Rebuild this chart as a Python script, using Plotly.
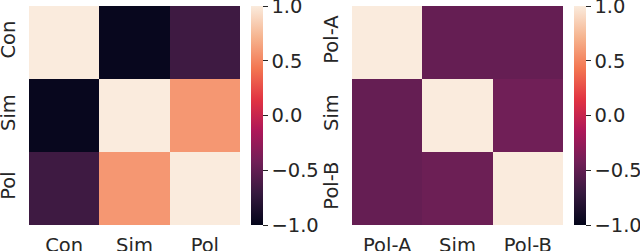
import plotly.graph_objects as go

# Data
left_labels = ["Con", "Sim", "Pol"]
left_values = [
    [1.00, -0.97, -0.67],
    [-0.97, 1.00, 0.58],
    [-0.67, 0.58, 1.00],
]
right_labels = ["Pol-A", "Sim", "Pol-B"]
right_values = [
    [1.00, -0.48, -0.48],
    [-0.48, 1.00, -0.43],
    [-0.48, -0.45, 1.00],
]
cbar_ticks = [-1.0, -0.5, 0.0, 0.5, 1.0]
cbar_ticktext = ["\u22121.0", "\u22120.5", "0.0", "0.5", "1.0"]

rocket = [
    [0.0, "#03051A"],
    [1/7, "#35193E"],
    [2/7, "#701F57"],
    [3/7, "#AD1759"],
    [4/7, "#E13342"],
    [5/7, "#F37651"],
    [6/7, "#F6B48F"],
    [1.0, "#FAEBDD"],
]

W, H = 640, 251
top_px, bot_px = 6, 225
y0 = (H - bot_px) / H
y1 = (H - top_px) / H
font = dict(family="DejaVu Sans", size=19.5, color="#262626")

fig = go.Figure()

def add_heat(values, labels, xa, ya, cb_x):
    fig.add_trace(go.Heatmap(
        z=values, x=labels, y=labels,
        xaxis=xa, yaxis=ya,
        zmin=-1, zmax=1, colorscale=rocket,
        colorbar=dict(
            x=cb_x / W, xanchor="left", xref="paper", xpad=0,
            y=y0, yanchor="bottom", yref="paper", ypad=0,
            len=(bot_px - top_px) / H, lenmode="fraction",
            thickness=12, thicknessmode="pixels",
            outlinewidth=0,
            tickmode="array",
            tickvals=cbar_ticks, ticktext=cbar_ticktext,
            ticks="outside", ticklen=5, tickwidth=1, tickcolor="#262626",
            tickfont=font, ticklabeloverflow="allow",
        ),
        hoverongaps=False,
    ))

add_heat(left_values, left_labels, "x", "y", 251)
add_heat(right_values, right_labels, "x2", "y2", 574)

axis_common = dict(showgrid=False, zeroline=False, showline=False,
                   ticks="outside", tickcolor="rgba(0,0,0,0)",
                   tickfont=font, automargin=False)

fig.update_layout(
    width=W, height=H,
    margin=dict(l=0, r=0, t=0, b=0, autoexpand=False),
    paper_bgcolor="white", plot_bgcolor="white",
    xaxis=dict(domain=[29 / W, 240 / W], anchor="y", ticklen=3, **axis_common),
    yaxis=dict(domain=[y0, y1], anchor="x", autorange="reversed",
               tickangle=-90, ticklen=5, **axis_common),
    xaxis2=dict(domain=[352 / W, 563 / W], anchor="y2", ticklen=3, **axis_common),
    yaxis2=dict(domain=[y0, y1], anchor="x2", autorange="reversed",
                tickangle=-90, ticklen=5, **axis_common),
)

fig.write_html("out.html", config={"displayModeBar": False},
               post_script="document.body.style.margin='0px';document.body.style.overflow='hidden';")
